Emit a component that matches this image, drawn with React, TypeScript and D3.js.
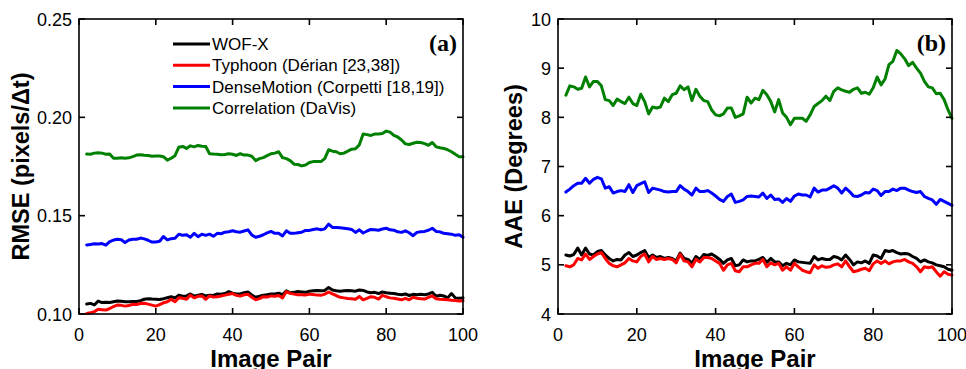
import React from "react";
import * as d3 from "d3";

// Image pair indices (2..100)
const pairs: number[] = d3.range(2, 101);

// (a) RMSE in pixels/Δt
const rmseWofx = [
  0.1051, 0.1054, 0.1046, 0.1066, 0.1058, 0.1060, 0.1058, 0.1062, 0.1066, 0.1065,
  0.1062, 0.1062, 0.1063, 0.1064, 0.1068, 0.1075, 0.1078, 0.1076, 0.1075, 0.1074,
  0.1078, 0.1083, 0.1088, 0.1082, 0.1096, 0.1090, 0.1092, 0.1102, 0.1091, 0.1095,
  0.1099, 0.1092, 0.1096, 0.1094, 0.1102, 0.1100, 0.1104, 0.1114, 0.1106, 0.1102,
  0.1102, 0.1108, 0.1112, 0.1096, 0.1085, 0.1090, 0.1096, 0.1098, 0.1102, 0.1102,
  0.1106, 0.1098, 0.1118, 0.1108, 0.1110, 0.1114, 0.1112, 0.1110, 0.1116, 0.1118,
  0.1120, 0.1118, 0.1120, 0.1135, 0.1122, 0.1118, 0.1116, 0.1118, 0.1120, 0.1118,
  0.1116, 0.1122, 0.1120, 0.1112, 0.1108, 0.1110, 0.1104, 0.1112, 0.1108, 0.1106,
  0.1104, 0.1100, 0.1098, 0.1102, 0.1094, 0.1100, 0.1098, 0.1100, 0.1098, 0.1102,
  0.1110, 0.1090, 0.1095, 0.1092, 0.1082, 0.1104, 0.1082, 0.1080, 0.1082,
];
const rmseTyphoon = [
  0.1003, 0.1006, 0.1012, 0.1024, 0.1022, 0.1020, 0.1028, 0.1038, 0.1046, 0.1044,
  0.1040, 0.1043, 0.1050, 0.1048, 0.1053, 0.1055, 0.1050, 0.1045, 0.1040, 0.1048,
  0.1057, 0.1062, 0.1075, 0.1062, 0.1083, 0.1080, 0.1075, 0.1096, 0.1082, 0.1090,
  0.1092, 0.1075, 0.1092, 0.1086, 0.1088, 0.1092, 0.1096, 0.1100, 0.1104, 0.1095,
  0.1091, 0.1098, 0.1100, 0.1085, 0.1072, 0.1078, 0.1088, 0.1086, 0.1092, 0.1090,
  0.1094, 0.1082, 0.1114, 0.1105, 0.1101, 0.1098, 0.1098, 0.1096, 0.1101, 0.1099,
  0.1096, 0.1095, 0.1101, 0.1112, 0.1102, 0.1094, 0.1085, 0.1082, 0.1079, 0.1078,
  0.1075, 0.1089, 0.1072, 0.1080, 0.1088, 0.1085, 0.1076, 0.1095, 0.1088, 0.1082,
  0.1080, 0.1076, 0.1072, 0.1080, 0.1072, 0.1085, 0.1080, 0.1078, 0.1076, 0.1085,
  0.1092, 0.1078, 0.1075, 0.1074, 0.1072, 0.1070, 0.1068, 0.1066, 0.1067,
];
const rmseDense = [
  0.1351, 0.1353, 0.1357, 0.1356, 0.1358, 0.1350, 0.1368, 0.1376, 0.1380, 0.1378,
  0.1364, 0.1376, 0.1380, 0.1380, 0.1386, 0.1382, 0.1375, 0.1366, 0.1366, 0.1370,
  0.1394, 0.1377, 0.1383, 0.1385, 0.1406, 0.1400, 0.1403, 0.1390, 0.1410, 0.1393,
  0.1406, 0.1400, 0.1406, 0.1395, 0.1410, 0.1408, 0.1416, 0.1418, 0.1423, 0.1418,
  0.1416, 0.1422, 0.1428, 0.1402, 0.1390, 0.1395, 0.1403, 0.1412, 0.1420, 0.1410,
  0.1410, 0.1397, 0.1423, 0.1410, 0.1410, 0.1413, 0.1416, 0.1425, 0.1425, 0.1430,
  0.1433, 0.1428, 0.1433, 0.1457, 0.1440, 0.1440, 0.1438, 0.1436, 0.1433, 0.1430,
  0.1415, 0.1428, 0.1412, 0.1422, 0.1430, 0.1428, 0.1426, 0.1432, 0.1436, 0.1428,
  0.1426, 0.1418, 0.1415, 0.1423, 0.1413, 0.1398, 0.1415, 0.1418, 0.1420, 0.1426,
  0.1436, 0.1420, 0.1418, 0.1410, 0.1408, 0.1406, 0.1400, 0.1403, 0.1390,
];
const rmseDavis = [
  0.1813, 0.1812, 0.1818, 0.1820, 0.1818, 0.1812, 0.1813, 0.1792, 0.1792, 0.1794,
  0.1792, 0.1794, 0.1800, 0.1808, 0.1810, 0.1807, 0.1806, 0.1802, 0.1803, 0.1803,
  0.1800, 0.1782, 0.1792, 0.1805, 0.1848, 0.1852, 0.1842, 0.1855, 0.1850, 0.1857,
  0.1853, 0.1852, 0.1815, 0.1813, 0.1812, 0.1810, 0.1811, 0.1815, 0.1812, 0.1806,
  0.1815, 0.1808, 0.1808, 0.1802, 0.1780, 0.1790, 0.1795, 0.1805, 0.1815, 0.1818,
  0.1825, 0.1795, 0.1790, 0.1780, 0.1762, 0.1760, 0.1753, 0.1758, 0.1770, 0.1775,
  0.1775, 0.1775, 0.1790, 0.1835, 0.1828, 0.1825, 0.1815, 0.1818, 0.1828, 0.1838,
  0.1840, 0.1860, 0.1915, 0.1912, 0.1908, 0.1915, 0.1915, 0.1918, 0.1930, 0.1925,
  0.1908, 0.1900, 0.1885, 0.1865, 0.1862, 0.1868, 0.1873, 0.1872, 0.1866, 0.1858,
  0.1872, 0.1850, 0.1845, 0.1842, 0.1835, 0.1825, 0.1812, 0.1800, 0.1800,
];

// (b) AAE in degrees
const aaeWofx = [
  5.20, 5.18, 5.21, 5.34, 5.20, 5.34, 5.22, 5.20, 5.27, 5.29,
  5.20, 5.13, 5.08, 5.11, 5.10, 5.20, 5.25, 5.17, 5.20, 5.25,
  5.29, 5.15, 5.20, 5.15, 5.17, 5.13, 5.15, 5.13, 5.08, 5.24,
  5.13, 5.11, 5.03, 5.17, 5.11, 5.21, 5.19, 5.22, 5.17, 5.11,
  5.03, 5.10, 5.13, 4.98, 5.00, 5.10, 5.06, 5.08, 5.08, 5.11,
  5.15, 5.05, 5.13, 5.06, 5.06, 4.98, 5.03, 5.00, 5.10, 5.06,
  5.05, 5.04, 5.03, 5.17, 5.10, 5.13, 5.11, 5.11, 5.17, 5.15,
  5.10, 5.20, 5.11, 5.00, 5.06, 5.04, 5.08, 5.03, 5.20, 5.18,
  5.13, 5.29, 5.27, 5.29, 5.25, 5.22, 5.23, 5.22, 5.17, 5.13,
  5.06, 5.10, 5.06, 5.04, 5.00, 4.98, 4.96, 4.91, 4.89,
];
const aaeTyphoon = [
  4.98, 4.96, 5.00, 5.13, 5.10, 5.22, 5.11, 5.17, 5.22, 5.25,
  5.13, 5.03, 4.98, 4.96, 5.00, 5.04, 5.13, 5.08, 5.06, 5.17,
  5.22, 5.06, 5.17, 5.11, 5.13, 5.11, 5.13, 5.11, 5.04, 5.22,
  5.08, 5.06, 4.96, 5.11, 5.06, 5.15, 5.15, 5.13, 5.08, 5.03,
  4.89, 5.00, 5.03, 4.88, 4.86, 4.96, 4.96, 5.00, 5.03, 5.03,
  5.11, 4.96, 5.04, 5.00, 5.03, 4.89, 4.96, 4.89, 5.03, 4.96,
  4.89, 4.86, 4.84, 5.00, 4.93, 4.98, 4.95, 4.96, 5.00, 5.02,
  4.96, 5.08, 4.96, 4.86, 4.88, 4.91, 4.93, 4.88, 5.02, 5.08,
  5.03, 5.08, 5.02, 5.06, 5.08, 5.08, 5.11, 5.06, 5.03, 4.96,
  4.86, 4.96, 4.94, 4.96, 4.86, 4.77, 4.86, 4.81, 4.79,
];
const aaeDense = [
  6.48, 6.54, 6.61, 6.66, 6.66, 6.76, 6.66, 6.74, 6.78, 6.75,
  6.56, 6.59, 6.46, 6.49, 6.51, 6.49, 6.63, 6.47, 6.61, 6.65,
  6.69, 6.47, 6.56, 6.54, 6.52, 6.49, 6.48, 6.49, 6.49, 6.61,
  6.54, 6.49, 6.42, 6.56, 6.49, 6.49, 6.51, 6.46, 6.40, 6.33,
  6.29, 6.39, 6.44, 6.27, 6.29, 6.32, 6.39, 6.40, 6.39, 6.38,
  6.46, 6.35, 6.42, 6.33, 6.34, 6.27, 6.35, 6.29, 6.40, 6.44,
  6.42, 6.42, 6.38, 6.56, 6.48, 6.52, 6.52, 6.56, 6.61, 6.56,
  6.46, 6.56, 6.49, 6.40, 6.39, 6.42, 6.47, 6.46, 6.54, 6.51,
  6.41, 6.49, 6.49, 6.54, 6.51, 6.56, 6.56, 6.52, 6.49, 6.47,
  6.49, 6.39, 6.35, 6.32, 6.23, 6.33, 6.29, 6.25, 6.21,
];
const aaeDavis = [
  8.45, 8.64, 8.62, 8.57, 8.59, 8.82, 8.62, 8.73, 8.73, 8.64,
  8.36, 8.34, 8.24, 8.37, 8.32, 8.28, 8.41, 8.28, 8.24, 8.47,
  8.32, 8.07, 8.21, 8.19, 8.21, 8.39, 8.32, 8.46, 8.49, 8.64,
  8.56, 8.62, 8.34, 8.57, 8.43, 8.34, 8.32, 8.15, 8.05, 8.03,
  8.07, 8.19, 8.19, 8.00, 8.03, 8.07, 8.41, 8.29, 8.39, 8.36,
  8.55, 8.46, 8.32, 8.11, 8.36, 8.09, 8.00, 7.85, 7.98, 7.98,
  7.98, 7.92, 8.05, 8.22, 8.28, 8.34, 8.43, 8.34, 8.53, 8.60,
  8.56, 8.53, 8.51, 8.57, 8.60, 8.49, 8.51, 8.47, 8.60, 8.82,
  8.66, 8.78, 9.07, 9.14, 9.36, 9.29, 9.19, 9.05, 9.12, 9.00,
  8.90, 8.73, 8.62, 8.60, 8.48, 8.49, 8.36, 8.15, 7.98,
];

const methodNames = [
  "WOF-X",
  "Typhoon (Dérian [23,38])",
  "DenseMotion (Corpetti [18,19])",
  "Correlation (DaVis)",
];
const methodColors = ["#000000", "#ff0000", "#0000ff", "#008000"];

const xTicks = [0, 20, 40, 60, 80, 100];
const rmseTicks = [0.1, 0.15, 0.2, 0.25];
const aaeTicks = [4, 5, 6, 7, 8, 9, 10];

const W = 966;
const H = 369;
const SANS = "'Liberation Sans', Arial, Helvetica, sans-serif";
const SERIF = "'Liberation Serif', 'Times New Roman', serif";

type PanelProps = {
  left: number;
  right: number;
  top: number;
  bottom: number;
  yDomain: [number, number];
  yTicks: number[];
  yFormat: (v: number) => string;
  yLabel: string;
  yLabelX: number;
  tag: string;
  series: number[][];
  legend?: boolean;
};

function Panel(p: PanelProps) {
  const x = d3.scaleLinear().domain([0, 100]).range([p.left, p.right]);
  const y = d3.scaleLinear().domain(p.yDomain).range([p.bottom, p.top]);
  const line = d3
    .line<number>()
    .x((_, i) => x(pairs[i]))
    .y((d) => y(d));
  const tick = 6;
  const cy = (p.top + p.bottom) / 2;
  const cx = (p.left + p.right) / 2;
  return (
    <g>
      {p.series.map((s, i) => (
        <path
          key={i}
          d={line(s) || ""}
          fill="none"
          stroke={methodColors[i]}
          strokeWidth={3}
          strokeLinejoin="round"
          strokeLinecap="round"
        />
      ))}
      <rect
        x={p.left}
        y={p.top}
        width={p.right - p.left}
        height={p.bottom - p.top}
        fill="none"
        stroke="#000"
        strokeWidth={1.6}
      />
      {xTicks.map((t) => (
        <g key={"x" + t}>
          <line x1={x(t)} x2={x(t)} y1={p.bottom} y2={p.bottom - tick} stroke="#000" strokeWidth={1.6} />
          <line x1={x(t)} x2={x(t)} y1={p.top} y2={p.top + tick} stroke="#000" strokeWidth={1.6} />
          <text x={x(t)} y={p.bottom + 27} textAnchor="middle" fontFamily={SANS} fontSize={18}>
            {t}
          </text>
        </g>
      ))}
      {p.yTicks.map((t) => (
        <g key={"y" + t}>
          <line x1={p.left} x2={p.left + tick} y1={y(t)} y2={y(t)} stroke="#000" strokeWidth={1.6} />
          <line x1={p.right} x2={p.right - tick} y1={y(t)} y2={y(t)} stroke="#000" strokeWidth={1.6} />
          <text x={p.left - 7} y={y(t) + 6.5} textAnchor="end" fontFamily={SANS} fontSize={18}>
            {p.yFormat(t)}
          </text>
        </g>
      ))}
      <text
        transform={`translate(${p.yLabelX},${cy}) rotate(-90)`}
        textAnchor="middle"
        fontFamily={SANS}
        fontWeight="bold"
        fontSize={23.5}
      >
        {p.yLabel}
      </text>
      <text x={cx} y={367} textAnchor="middle" fontFamily={SANS} fontWeight="bold" fontSize={24}>
        Image Pair
      </text>
      <text x={p.right - 6} y={51} textAnchor="end" fontFamily={SERIF} fontWeight="bold" fontSize={24}>
        {p.tag}
      </text>
      {p.legend &&
        methodNames.map((name, i) => {
          const ly = 44 + i * 21.3;
          return (
            <g key={name}>
              <line x1={173} x2={210} y1={ly} y2={ly} stroke={methodColors[i]} strokeWidth={3} />
              <text x={212} y={ly + 6} fontFamily={SANS} fontSize={17}>
                {name}
              </text>
            </g>
          );
        })}
    </g>
  );
}

export default function App() {
  return (
    <svg
      width={W}
      height={H}
      viewBox={`0 0 ${W} ${H}`}
      style={{ position: "absolute", left: 0, top: 0, background: "#fff" }}
    >
      <rect width={W} height={H} fill="#fff" />
      <Panel
        left={79}
        right={463}
        top={19}
        bottom={314}
        yDomain={[0.1, 0.25]}
        yTicks={rmseTicks}
        yFormat={d3.format(".2f")}
        yLabel="RMSE (pixels/Δt)"
        yLabelX={29}
        tag="(a)"
        series={[rmseWofx, rmseTyphoon, rmseDense, rmseDavis]}
        legend
      />
      <Panel
        left={558}
        right={952}
        top={19}
        bottom={314}
        yDomain={[4, 10]}
        yTicks={aaeTicks}
        yFormat={(v) => String(v)}
        yLabel="AAE (Degrees)"
        yLabelX={522}
        tag="(b)"
        series={[aaeWofx, aaeTyphoon, aaeDense, aaeDavis]}
      />
    </svg>
  );
}
